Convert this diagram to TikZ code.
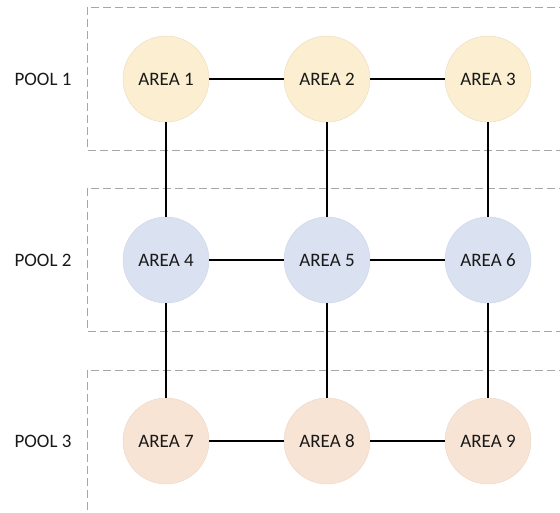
\documentclass[tikz,border=0pt]{standalone}
\usepackage{fontspec}
\setmainfont{Carlito}
\usetikzlibrary{positioning}

\definecolor{yellowfill}{HTML}{FCEFD1}
\definecolor{bluefill}{HTML}{DAE1F1}
\definecolor{peachfill}{HTML}{F8E4D5}
\definecolor{poolgray}{HTML}{A6A6A6}

\begin{document}
\begin{tikzpicture}[x=1pt,y=-1pt,node distance=181pt and 161pt,on grid,
  area/.style={circle,minimum size=86pt,inner sep=0pt,line width=0.5pt,
               text=black!90,font=\fontsize{19}{23}\selectfont},
  area1/.style={area,fill=yellowfill,draw=yellowfill!93!black},
  area2/.style={area,fill=bluefill,draw=bluefill!95!black},
  area3/.style={area,fill=peachfill,draw=peachfill!95!black},
  pool/.style={text=black!90,font=\fontsize{19}{23}\selectfont},
  poolbox/.style={draw=poolgray,line width=0.9pt,dash pattern=on 8pt off 4pt},
  link/.style={draw=black,line width=1.4pt}]

\clip (0,0) rectangle (560,512);

% pools
\draw [poolbox] (87,7)   rectangle (580,150);
\draw [poolbox] (87,188) rectangle (580,331);
\draw [poolbox] (87,370) rectangle (580,513);

% areas
\node [area1] (a1) at (166,79) {AREA 1};
\node [area1, right=of a1] (a2) {AREA 2};
\node [area1, right=of a2] (a3) {AREA 3};
\node [area2, below=of a1] (a4) {AREA 4};
\node [area2, right=of a4] (a5) {AREA 5};
\node [area2, right=of a5] (a6) {AREA 6};
\node [area3, below=of a4] (a7) {AREA 7};
\node [area3, right=of a7] (a8) {AREA 8};
\node [area3, right=of a8] (a9) {AREA 9};

\node [pool, left=123pt of a1] (p1) {POOL 1};
\node [pool, left=123pt of a4] (p2) {POOL 2};
\node [pool, left=123pt of a7] (p3) {POOL 3};

\path [link] (a1) edge (a2)
                  edge (a4)
             (a2) edge (a3)
                  edge (a5)
             (a3) edge (a6)
             (a4) edge (a5)
                  edge (a7)
             (a5) edge (a6)
                  edge (a8)
             (a6) edge (a9)
             (a7) edge (a8)
             (a8) edge (a9);

\end{tikzpicture}
\end{document}
